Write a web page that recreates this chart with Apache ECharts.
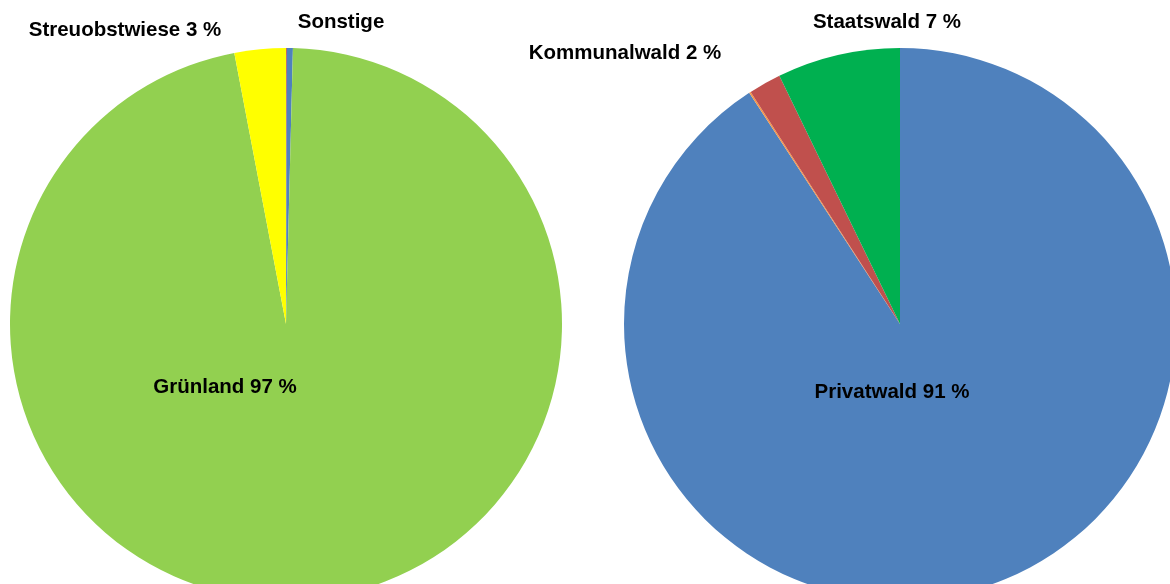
<!DOCTYPE html>
<html>
<head>
<meta charset="utf-8">
<script src="https://cdn.jsdelivr.net/npm/echarts@6/dist/echarts.min.js"></script>
<style>
  html, body { margin: 0; padding: 0; background: #fff; }
  #chart { width: 1170px; height: 584px; }
</style>
</head>
<body>
<div id="chart"></div>
<script>
// Landnutzung (Grünland) – clockwise from 12 o'clock
const landNames  = ['', 'Sonstige', 'Grünland', 'Streuobstwiese'];
const landValues = [0.05, 0.35, 96.6, 3.0];
const landColors = ['#C0504D', '#4F81BD', '#92D050', '#FFFF00'];
const landShowPct = [false, false, true, true];

// Waldbesitz – clockwise from 12 o'clock
const forestNames  = ['Privatwald', '', 'Kommunalwald', 'Staatswald'];
const forestValues = [90.8, 0.1, 1.9, 7.2];
const forestColors = ['#4F81BD', '#F79646', '#C0504D', '#00B050'];
const forestShowPct = [true, false, true, true];

// label anchor points (centre of text), per slice; null = no label
const landLabelPos   = [null, [341, 22], [225, 387], [125, 30]];
const forestLabelPos = [[892, 392], null, [625, 53], [887, 22]];

const labelFont = {
  fontFamily: '"Liberation Sans", Arial, sans-serif',
  fontWeight: 'bold',
  fontSize: 20.5,
  color: '#000'
};

function buildData(names, values, colors, showPct) {
  return names.map((n, i) => ({
    name: n,
    value: values[i],
    itemStyle: { color: colors[i] },
    label: {
      show: n !== '',
      formatter: showPct[i] ? n + ' ' + Math.round(values[i]) + ' %' : n
    }
  }));
}

function layoutFrom(positions) {
  return function (params) {
    const p = positions[params.dataIndex];
    if (!p) return {};
    return { x: p[0], y: p[1], align: 'center', verticalAlign: 'middle' };
  };
}

const chart = echarts.init(document.getElementById('chart'), null, { renderer: 'canvas' });
chart.setOption({
  animation: false,
  backgroundColor: '#fff',
  series: [
    {
      type: 'pie',
      center: [286, 324],
      radius: 276,
      startAngle: 90,
      clockwise: true,
      avoidLabelOverlap: false,
      minAngle: 0,
      itemStyle: { borderWidth: 0 },
      label: Object.assign({ position: 'outside' }, labelFont),
      labelLine: { show: false },
      labelLayout: layoutFrom(landLabelPos),
      emphasis: { disabled: true },
      data: buildData(landNames, landValues, landColors, landShowPct)
    },
    {
      type: 'pie',
      center: [900, 324],
      radius: 276,
      startAngle: 90,
      clockwise: true,
      avoidLabelOverlap: false,
      minAngle: 0,
      itemStyle: { borderWidth: 0 },
      label: Object.assign({ position: 'outside' }, labelFont),
      labelLine: { show: false },
      labelLayout: layoutFrom(forestLabelPos),
      emphasis: { disabled: true },
      data: buildData(forestNames, forestValues, forestColors, forestShowPct)
    }
  ]
});
</script>
</body>
</html>
